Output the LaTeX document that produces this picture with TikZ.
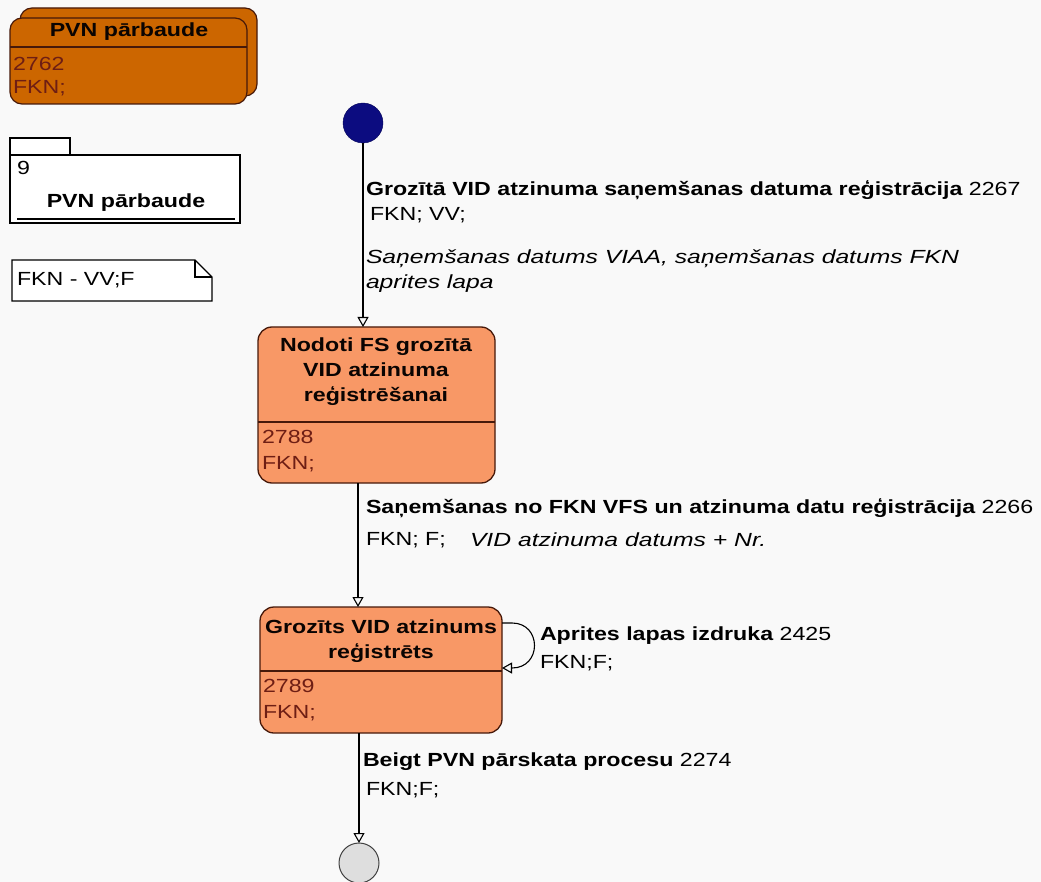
\documentclass[tikz,border=0pt]{standalone}
\usepackage{fontspec}
\setmainfont[FakeStretch=1.22]{Liberation Sans}
\newfontfamily\notefont[FakeStretch=1.3]{Liberation Sans}
\usetikzlibrary{arrows.meta,positioning}
\definecolor{subfill}{RGB}{204,102,0}
\definecolor{statefill}{RGB}{248,152,102}
\definecolor{boxline}{RGB}{70,25,10}
\definecolor{idbrown}{RGB}{110,30,20}
\definecolor{initblue}{RGB}{12,12,128}
\definecolor{endgray}{RGB}{222,222,222}
\definecolor{paper}{RGB}{249,249,249}
\newcommand\diagfont{\fontsize{19}{25}\selectfont}
\tikzset{
  statebox/.style={draw=boxline, fill=statefill, rounded corners=14pt, line width=1.3pt},
  title/.style={font=\diagfont\bfseries, text=black!85!boxline, align=center},
  idtext/.style={anchor=west, text=idbrown},
  lbl/.style={anchor=west},
  trans/.style={draw=black, line width=1.1pt, -{Triangle[open,length=10pt,width=11pt]}},
}
\begin{document}
\begin{tikzpicture}[x=1pt,y=-1pt,
  every node/.style={inner sep=0pt, outer sep=0pt},
  font=\diagfont]
\useasboundingbox (0,0) rectangle (1041,882);
\fill[paper] (0,0) rectangle (1041,882);

% substate
\filldraw[fill=subfill, draw=boxline, line width=1.2pt, rounded corners=12pt] (20,8) rectangle (257,96);
\filldraw[fill=subfill, draw=boxline, line width=1.2pt, rounded corners=12pt] (10,18) rectangle (247,104);
\draw[boxline, line width=1.2pt] (10,47) -- (247,47);
\node[title] (pvnsubtitle) at (129,32) {PVN pārbaude};
\node[idtext] (pvnsubid) at (13,64) {2762};
\node[idtext] (pvnsubrole) at (13,88) {FKN;};

% package
\draw[line width=1.1pt, fill=white] (10,138) rectangle (70,155);
\draw[line width=1.1pt, fill=white] (10,155) rectangle (240,223);
\node[lbl] (pkgnum) at (17,168) {9};
\node[title, text=black] (pkgtitle) at (126,203) {PVN pārbaude};
\draw[line width=2pt] (17,219) -- (235,219);

% note
\draw[line width=1.1pt, fill=white] (12,260) -- (195,260) -- (212,277) -- (212,301) -- (12,301) -- cycle;
\draw[line width=1.1pt] (195,260) -- (195,277) -- (212,277);
\node[lbl] (notetext) at (17,280) {FKN - VV;F};

% states
\node[circle, fill=initblue, draw=initblue!70!black, minimum size=40pt] (init) at (363,123) {};
\node[statebox, minimum width=237pt, minimum height=156pt] (nodoti) at (376.5,405) {};
\draw[boxline, line width=1.2pt] (nodoti.west |- 0,422) -- (nodoti.east |- 0,422);
\node[title] (nodotititle) at (376,372) {Nodoti FS grozītā\\VID atzinuma\\reģistrēšanai};
\node[idtext] (nodotiid) at (262,437) {2788};
\node[idtext] (nodotirole) at (262,464) {FKN;};

\node[statebox, minimum width=242pt, minimum height=126pt] (grozits) at (381,670) {};
\draw[boxline, line width=1.2pt] (grozits.west |- 0,671) -- (grozits.east |- 0,671);
\node[title] (grozitstitle) at (381,641) {Grozīts VID atzinums\\reģistrēts};
\node[idtext] (grozitsid) at (263,686) {2789};
\node[idtext] (grozitsrole) at (263,713) {FKN;};

\node[circle, fill=endgray, draw=black!75, line width=1pt, minimum size=40pt] (final) at (359,863) {};

% transitions
\draw[trans] (init) -- (init.south |- nodoti.north);
\node[lbl] (t1name) at (366,190) {\bfseries Grozītā VID atzinuma saņemšanas datuma reģistrācija\mdseries\ 2267};
\node[lbl] (t1role) at (370,215) {FKN; VV;};
\node[lbl, align=left] (t1note) at (366,271) {\notefont\itshape Saņemšanas datums VIAA, saņemšanas datums FKN\\\notefont\itshape aprites lapa};

\coordinate (nodotiout) at (nodoti.south -| 358,0);
\draw[trans] (nodotiout) -- (nodotiout |- grozits.north);
\node[lbl] (t2name) at (366,508) {\bfseries Saņemšanas no FKN VFS un atzinuma datu reģistrācija\mdseries\ 2266};
\node[lbl] (t2role) at (366,540) {FKN; F;};
\node[lbl] (t2note) at (470,540) {\notefont\itshape VID atzinuma datums + Nr.};

\coordinate (loopout) at (grozits.east |- 0,623);
\coordinate (loopin) at (grozits.east |- 0,668);
\draw[trans] (loopout) -- ++(10,0) .. controls +(30,0) and +(30,0) .. ([xshift=10pt]loopin) -- (loopin);
\node[lbl] (t3name) at (540,636) {\bfseries Aprites lapas izdruka\mdseries\ 2425};
\node[lbl] (t3role) at (540,663) {FKN;F;};

\draw[trans] (grozits.south -| final) -- (final.north);
\node[lbl] (t4name) at (363,762) {\bfseries Beigt PVN pārskata procesu\mdseries\ 2274};
\node[lbl] (t4role) at (366,790) {FKN;F;};
\end{tikzpicture}
\end{document}
